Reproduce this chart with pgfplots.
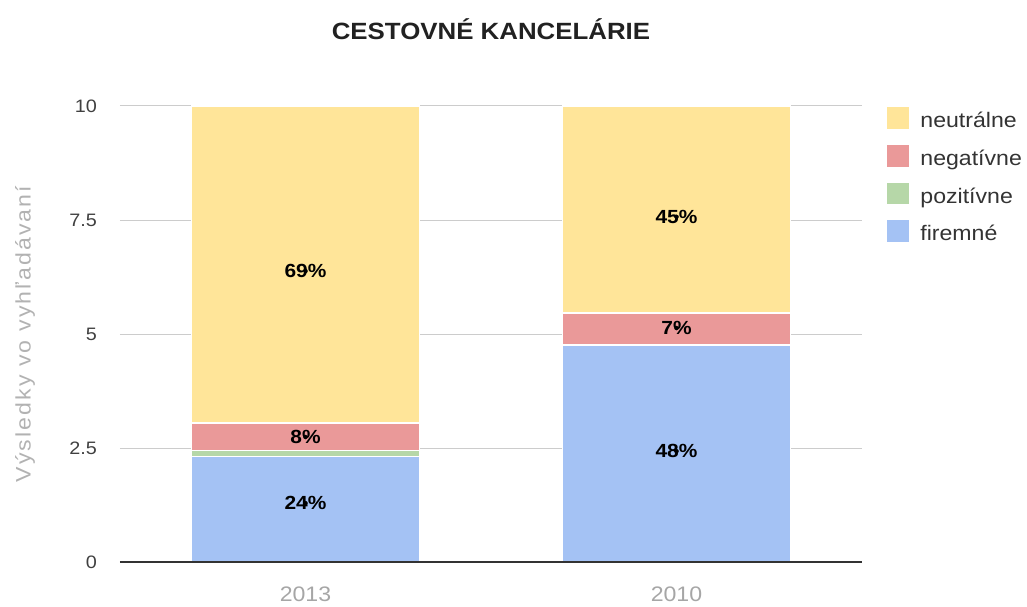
\documentclass[border=0pt]{standalone}
\usepackage{pgfplots}
\pgfplotsset{compat=1.18}
\usepackage{fontspec}
\setmainfont{Liberation Sans}[FakeStretch=1.1]
\definecolor{cyellow}{HTML}{FFE599}
\definecolor{cred}{HTML}{EA9999}
\definecolor{cgreen}{HTML}{B6D7A8}
\definecolor{cblue}{HTML}{A4C2F4}
\begin{document}
\begin{tikzpicture}[x=1pt,y=1pt]
\path[use as bounding box] (-120,-44) rectangle (907,562);
\begin{axis}[
  at={(0,0)}, anchor=south west,
  scale only axis, width=742pt, height=456pt,
  ybar stacked, bar width=228pt,
  xmin=-0.5, xmax=1.5, ymin=0, ymax=10,
  xtick={0,1}, xticklabels={2013,2010},
  ytick={0,2.5,5,7.5,10}, yticklabels={0,2.5,5,7.5,10},
  axis line style={draw=none},
  major tick length=0pt,
  ymajorgrids, grid style={black!20, line width=1pt},
  /pgf/number format/assume math mode=true,
  yticklabel style={font=\fontsize{18}{20}\selectfont, text=black!75, anchor=east, inner sep=0pt, xshift=-23pt},
  xticklabel style={font=\fontsize{21}{23}\selectfont, text=black!35, anchor=north, inner sep=0pt, yshift=-25pt},
  ylabel={Výsledky vo vyhľadávaní},
  ylabel style={font=\fontsize{21}{23}\selectfont\addfontfeature{LetterSpace=10}, text=black!30, at={(axis description cs:-0.128,0.5)}, anchor=center, rotate=0},
  title={CESTOVNÉ KANCELÁRIE},
  title style={font=\bfseries\fontsize{23.5}{26}\selectfont, text=black!87, at={(axis description cs:0.5,1.155)}, anchor=center},
  reverse legend,
  legend cell align=left,
  legend style={at={(1,1)}, anchor=north west, xshift=24pt, yshift=0pt, draw=none, fill=none,
    font=\fontsize{21}{23}\selectfont, text=black!80, row sep=11pt, inner sep=0pt,
    nodes={inner sep=0pt, text height=15pt, text depth=5pt, anchor=base west},
    /tikz/every odd column/.append style={column sep=10pt}},
  legend image code/.code={\fill[#1] (0pt,-2pt) rectangle (23pt,21pt);},
]
\addplot[fill=cblue, draw=white, line width=1.2pt] coordinates {(0,2.32) (1,4.76)};
\addlegendentry{firemné}
\addplot[fill=cgreen, draw=white, line width=1.2pt] coordinates {(0,0.12) (1,0)};
\addlegendentry{pozitívne}
\addplot[fill=cred, draw=white, line width=1.2pt] coordinates {(0,0.61) (1,0.70)};
\addlegendentry{negatívne}
\addplot[fill=cyellow, draw=white, line width=1.2pt] coordinates {(0,6.95) (1,4.54)};
\addlegendentry{neutrálne}
\end{axis}
\begin{axis}[
  at={(0,0)}, anchor=south west,
  scale only axis, width=742pt, height=456pt,
  xmin=-0.5, xmax=1.5, ymin=0, ymax=10,
  axis y line=none, axis x line=bottom,
  axis line style={-, draw=black!80, line width=1.3pt},
  xtick=\empty, ytick=\empty,
]
\addplot[only marks, mark=*, mark options={draw=none, fill=none},
  nodes near coords, point meta=explicit symbolic,
  every node near coord/.append style={anchor=center, font=\bfseries\fontsize{19}{20}\selectfont, text=black}]
  coordinates {(0,1.29) [24\%] (0,2.74) [8\%] (0,6.38) [69\%] (1,2.43) [48\%] (1,5.13) [7\%] (1,7.57) [45\%]};
\end{axis}
\end{tikzpicture}
\end{document}
